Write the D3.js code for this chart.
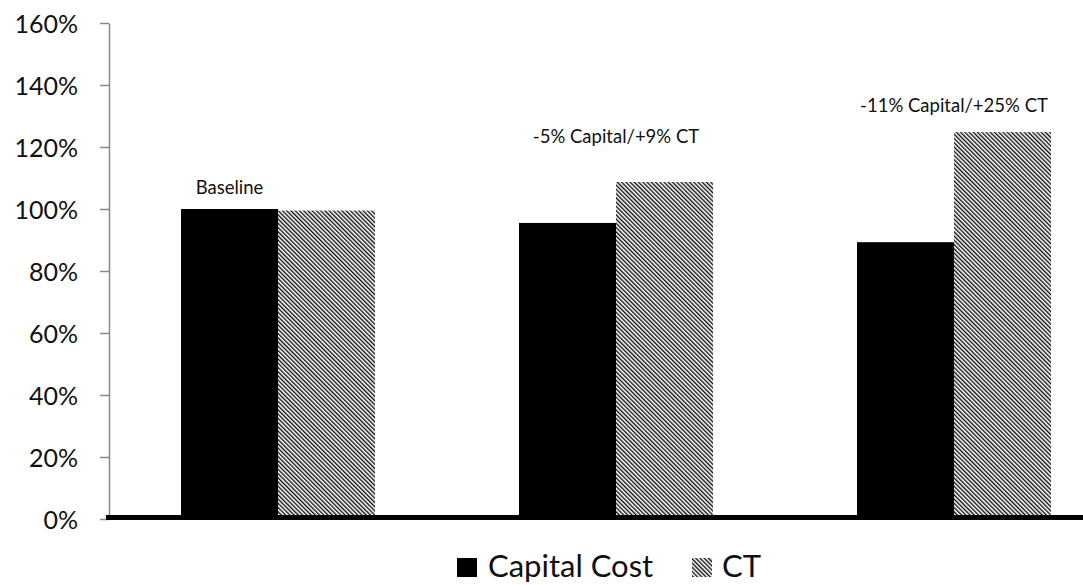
<!DOCTYPE html>
<html>
<head>
<meta charset="utf-8">
<script src="https://cdn.jsdelivr.net/npm/d3@7"></script>
<style>
  body { margin: 0; background: #fff; }
  svg { display: block; }
</style>
</head>
<body>
<script>
const groups = ["Baseline", "Option A", "Option B"];
const series = ["Capital Cost", "CT"];
const capital = [1.0, 0.955, 0.893];
const ct = [0.995, 1.087, 1.248];
const notes = ["Baseline", "-5% Capital/+9% CT", "-11% Capital/+25% CT"];
const noteAt = [1.048, 1.213, 1.313];
const noteOn = ["Capital Cost", "CT", "CT"];
const yTicks = [0, 0.2, 0.4, 0.6, 0.8, 1.0, 1.2, 1.4, 1.6];

const width = 1083, height = 585;
const FONT = "Lato, 'Open Sans', sans-serif";

const svg = d3.select("body").append("svg")
  .attr("width", width)
  .attr("height", height);

// hatch for the CT series
const defs = svg.append("defs");
defs.append("pattern")
  .attr("id", "hatch")
  .attr("patternUnits", "userSpaceOnUse")
  .attr("width", 3)
  .attr("height", 3)
  .attr("patternTransform", "rotate(-45)")
  .append("line")
  .attr("x1", 0.7).attr("y1", 0)
  .attr("x2", 0.7).attr("y2", 3)
  .attr("stroke", "#000")
  .attr("stroke-width", 1.3);

const fills = { "Capital Cost": "#000", "CT": "url(#hatch)" };

const y = d3.scaleLinear().domain([0, 1.6]).range([519, 23]);
const x0 = d3.scaleBand().domain(groups).range([109, 1123]).padding(0);
const x1 = d3.scaleBand().domain(series).range([0, x0.bandwidth()])
  .paddingInner(0).paddingOuter(0.742);

const rows = groups.map((g, i) => ({
  group: g,
  values: [
    { key: "Capital Cost", v: capital[i] },
    { key: "CT", v: ct[i] },
  ],
  note: notes[i],
  noteAt: noteAt[i],
  noteOn: noteOn[i],
}));

// y axis
const yAxis = svg.append("g")
  .attr("transform", "translate(109,0)")
  .call(d3.axisLeft(y).tickValues(yTicks).tickFormat(d3.format(".0%")).tickSize(9).tickSizeOuter(0));
yAxis.select(".domain").attr("stroke", "#888").attr("stroke-width", 1.5);
yAxis.selectAll(".tick line").attr("stroke", "#888").attr("stroke-width", 1.5);
yAxis.selectAll(".tick text")
  .attr("x", -31)
  .attr("dy", "0.36em")
  .style("font-family", FONT)
  .style("font-size", "25px")
  .attr("fill", "#111");

// bars
const g = svg.append("g")
  .selectAll("g")
  .data(rows)
  .join("g")
  .attr("transform", (d) => `translate(${x0(d.group)},0)`);

g.selectAll("rect")
  .data((d) => d.values)
  .join("rect")
  .attr("x", (d) => x1(d.key))
  .attr("y", (d) => y(d.v))
  .attr("width", x1.bandwidth())
  .attr("height", (d) => y(0) - y(d.v))
  .attr("fill", (d) => fills[d.key]);

g.append("text")
  .attr("x", (d) => d.noteOn === "CT" ? x1("CT") : x1("Capital Cost") + x1.bandwidth() / 2)
  .attr("y", (d) => y(d.noteAt))
  .attr("text-anchor", "middle")
  .style("font-family", FONT)
  .style("font-size", "18.5px")
  .attr("fill", "#111")
  .text((d) => d.note);

// thick baseline
svg.append("line")
  .attr("x1", 106).attr("x2", width)
  .attr("y1", y(0) - 1.5).attr("y2", y(0) - 1.5)
  .attr("stroke", "#000")
  .attr("stroke-width", 5);

// legend
const legend = svg.append("g").attr("transform", "translate(457,558)");
const items = [
  { key: "Capital Cost", x: 0, tx: 31 },
  { key: "CT", x: 235, tx: 265 },
];
legend.selectAll("rect")
  .data(items)
  .join("rect")
  .attr("x", (d) => d.x)
  .attr("y", 0)
  .attr("width", 20)
  .attr("height", 19)
  .attr("fill", (d) => fills[d.key]);
legend.selectAll("text")
  .data(items)
  .join("text")
  .attr("x", (d) => d.tx)
  .attr("y", 19)
  .style("font-family", FONT)
  .style("font-size", "31px")
  .attr("fill", "#111")
  .text((d) => d.key);
</script>
</body>
</html>
